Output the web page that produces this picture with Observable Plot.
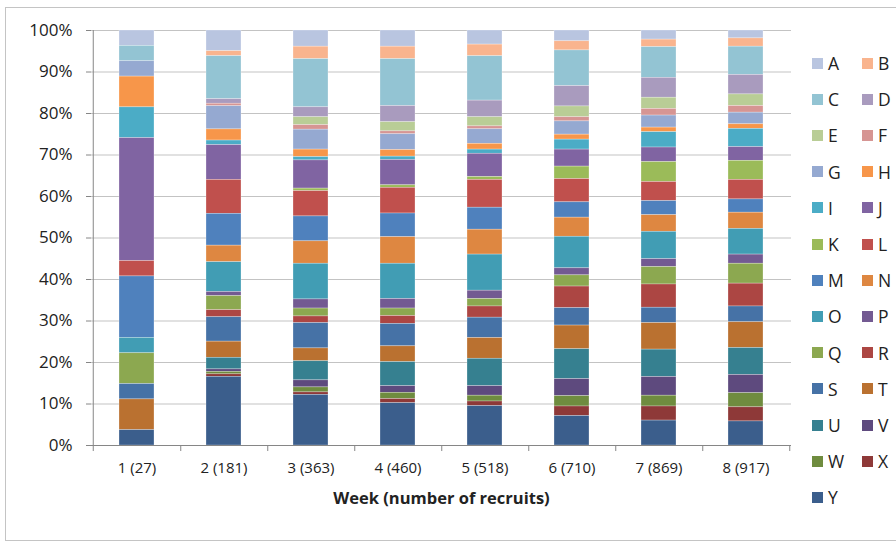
<!DOCTYPE html>
<html><head><meta charset="utf-8">
<script src="https://cdn.jsdelivr.net/npm/d3@7"></script>
<script src="https://cdn.jsdelivr.net/npm/@observablehq/plot@0.6"></script>
<style>
body{margin:0;background:#fff;}
#wrap{position:relative;width:896px;height:549px;font-family:"Open Sans",sans-serif;overflow:hidden;}
#frame{position:absolute;left:5px;top:7px;width:900px;height:532px;border:1px solid #c4c4c4;pointer-events:none;}
#chart{position:absolute;left:0;top:0;}
.li{position:absolute;display:flex;align-items:center;font-size:17.5px;color:#222;line-height:20px;white-space:nowrap;}
.sw{width:11px;height:11px;margin-right:5px;flex:none;}
g[aria-label="y-axis tick label"] text{font-size:17px;}
g[aria-label="x-axis label"] text{font-weight:bold;font-size:16.5px;}
</style></head><body>
<div id="wrap"><div id="chart"></div><div id="legend"></div><div id="frame"></div></div>
<script>
const series = ["A","B","C","D","E","F","G","H","I","J","K","L","M","N","O","P","Q","R","S","T","U","V","W","X","Y"];
const colors = ["#B9C5E0","#F9B48E","#93C4D3","#A99BBE","#B9CD96","#D69593","#95A9D1","#F7964A","#4BACC6","#8064A2","#9BBB59","#C0504D","#4F81BD","#DE8741","#419DB4","#735A92","#8CA850","#AC4643","#4672A6","#BA7130","#368090","#5E4A7E","#6F8C3F","#8E3938","#3B5E8C"];
const weeks = ["1 (27)","2 (181)","3 (363)","4 (460)","5 (518)","6 (710)","7 (869)","8 (917)"];
// percentages per week, in series order A..Y
const week1 = [3.7,0,3.7,0,0,0,3.7,7.4,7.4,29.6,0,3.7,14.8,0,3.7,0,7.4,0,3.7,7.4,0,0,0,0,3.7];
const week2 = [5.0,1.2,10.4,1.1,0,0.6,5.6,2.7,1.1,8.4,0,8.2,7.7,4.0,7.2,1.0,3.4,1.7,5.9,3.9,2.8,0.6,0.6,0.6,16.6];
const week3 = [3.9,3.0,11.6,2.4,1.9,1.1,4.8,1.8,0.8,6.8,0.6,6.1,6.0,5.4,8.6,2.2,1.9,1.6,6.1,3.1,4.6,1.7,1.2,0.6,12.2];
const week4 = [3.9,3.0,11.3,3.9,2.2,0.7,3.8,1.6,0.8,6.1,0.6,6.2,5.7,6.4,8.5,2.3,1.8,1.9,5.4,3.8,5.8,1.6,1.5,1.0,10.2];
const week5 = [3.4,2.8,10.7,4.0,2.2,0.7,3.5,1.4,1.0,5.6,0.7,6.7,5.3,6.0,8.7,2.0,1.8,2.7,4.9,5.0,6.6,2.3,1.4,1.1,9.5];
const week6 = [2.6,2.2,8.6,4.9,2.6,1.0,3.2,1.2,2.4,4.1,3.0,5.6,3.7,4.6,7.6,1.7,2.7,5.2,4.2,5.7,7.2,4.1,2.5,2.3,7.1];
const week7 = [2.2,1.8,7.4,4.8,2.7,1.6,2.9,1.1,3.7,3.5,4.8,4.6,3.4,4.0,6.6,1.9,4.2,5.6,3.7,6.4,6.6,4.5,2.6,3.4,6.0];
const week8 = [1.9,2.0,6.8,4.7,2.8,1.6,2.8,1.1,4.4,3.3,4.6,4.7,3.2,3.9,6.2,2.2,4.8,5.5,3.8,6.2,6.5,4.4,3.4,3.4,5.8];
const yTicks = [0,0.1,0.2,0.3,0.4,0.5,0.6,0.7,0.8,0.9,1];

const weekValues = [week1,week2,week3,week4,week5,week6,week7,week8];
const data = weeks.flatMap((w,i)=>series.map((s,j)=>({week:w, series:s, value:weekValues[i][j]})));
const W = 896, H = 549, mL = 91, mR = 105;
const half = (W - mL - mR) / weeks.length / 2;

const chart = Plot.plot({
  width: W, height: H, marginLeft: mL, marginRight: mR, marginTop: 30, marginBottom: 104,
  style: {fontFamily: "'Open Sans', sans-serif", fontSize: "15px", color: "#222", background: "transparent", overflow: "visible"},
  x: {domain: weeks, paddingInner: 0.6, paddingOuter: 0.3},
  y: {domain: [0, 1]},
  color: {domain: series, range: colors},
  marks: [
    Plot.ruleY(yTicks.slice(1), {stroke: "#c3c3c3", strokeWidth: 1}),
    Plot.barY(data, Plot.stackY({x: "week", y: "value", fill: "series", order: [...series].reverse(), offset: "normalize", stroke: "#ffffff", strokeOpacity: 0.45, strokeWidth: 0.6})),
    Plot.ruleY([0], {stroke: "#868686"}),
    Plot.ruleX([weeks[0]], {x: d => d, dx: -half, y1: -0.0145, y2: 1, stroke: "#868686"}),
    Plot.ruleX(weeks, {x: d => d, dx: half, y1: -0.0145, y2: 0, stroke: "#868686"}),
    Plot.axisY({ticks: yTicks, tickFormat: d3.format(".0%"), tickSize: 5, tickPadding: 14, stroke: "#868686", label: null}),
    Plot.axisX({tickSize: 0, tickPadding: 17, label: "Week (number of recruits)", labelAnchor: "center", labelOffset: 58})
  ]
});
document.getElementById("chart").appendChild(chart);

const legend = document.getElementById("legend");
series.forEach((s, i) => {
  const col = i % 2, row = Math.floor(i / 2);
  const el = document.createElement("div");
  el.className = "li";
  el.style.left = (col ? 862 : 812) + "px";
  el.style.top = (63 + row * 36.2 - 10) + "px";
  el.innerHTML = `<span class="sw" style="background:${colors[i]}"></span><span>${s}</span>`;
  legend.appendChild(el);
});
</script>
</body></html>
